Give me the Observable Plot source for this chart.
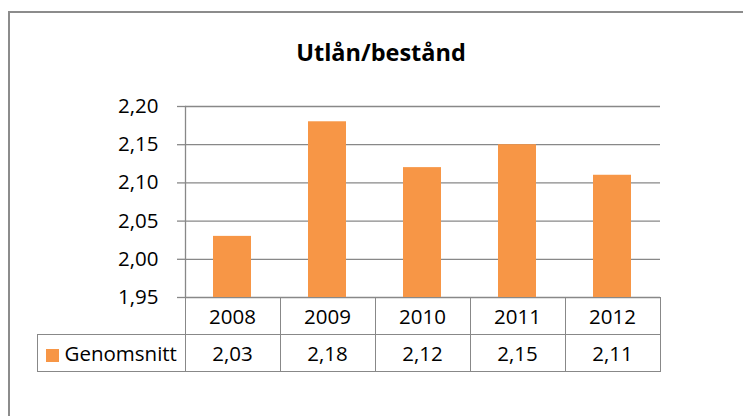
<!DOCTYPE html>
<html>
<head>
<meta charset="utf-8">
<script src="https://cdn.jsdelivr.net/npm/d3@7"></script>
<script src="https://cdn.jsdelivr.net/npm/@observablehq/plot@0.6"></script>
<style>
  html, body { margin: 0; padding: 0; background: #fff; }
  #wrap { position: relative; width: 743px; height: 416px; overflow: hidden; font-family: "Open Sans", sans-serif; color: #000; }
  #border { position: absolute; left: 8px; top: 11px; width: 900px; height: 600px; border-top: 2px solid #8c8c8c; border-left: 2px solid #8c8c8c; }
  #title { position: absolute; left: 0; width: 762px; top: 41px; text-align: center; font-size: 23.5px; font-weight: bold; line-height: 23.5px; }
  #chart { position: absolute; left: 0; top: 0; }
  table.dt { position: absolute; border-collapse: collapse; table-layout: fixed; font-size: 20.5px; }
  table.dt td { border: 1px solid #888; padding: 0; text-align: center; vertical-align: middle; white-space: nowrap; }
  table.dt td.blank { border-top: none; border-left: none; }
  table.dt td.leg { text-align: left; }
  .sw { display: inline-block; width: 13px; height: 13px; background: #F79646; margin-left: 8px; margin-right: 6px; vertical-align: -1px; }
</style>
</head>
<body>
<div id="wrap">
  <div id="border"></div>
  <div id="title"></div>
  <div id="chart"></div>
</div>
<script>
const title = "Utlån/bestånd";
const seriesName = "Genomsnitt";
const years = ["2008", "2009", "2010", "2011", "2012"];
const values = [2.03, 2.18, 2.12, 2.15, 2.11];
const yTicks = [1.95, 2.00, 2.05, 2.10, 2.15, 2.20];

const fmt = d => d.toFixed(2).replace(".", ",");
const data = years.map((year, i) => ({year, value: values[i]}));

document.getElementById("title").textContent = title;

const chart = Plot.plot({
  width: 743,
  height: 416,
  marginLeft: 185,
  marginRight: 83,
  marginTop: 106,
  marginBottom: 119,
  style: {fontFamily: "'Open Sans', sans-serif", fontSize: "20.5px", color: "#000", background: "transparent"},
  x: {domain: years, paddingInner: 0.6, paddingOuter: 0.3, axis: null},
  y: {domain: [yTicks[0], yTicks[yTicks.length - 1]], axis: null},
  marks: [
    Plot.ruleY(yTicks, {stroke: "#888", strokeWidth: 1.3}),
    Plot.axisY({ticks: yTicks, tickFormat: fmt, tickSize: 8, tickPadding: 19, stroke: "#888", strokeWidth: 1.3, label: null, fill: "#000"}),
    Plot.frame({anchor: "left", stroke: "#888", strokeWidth: 1.3}),
    Plot.barY(data, {x: "year", y1: yTicks[0], y2: "value", fill: "#F79646"})
  ]
});
document.getElementById("chart").appendChild(chart);

// Data table aligned with the chart's x band scale
const xs = chart.scale("x");
const step = xs.step;
const colLeft = xs.apply(years[0]) - (step - xs.bandwidth) / 2;
const legendWidth = 148;
const yBase = chart.scale("y").apply(yTicks[0]);

const table = d3.select("#wrap").append("table").attr("class", "dt")
  .style("left", (colLeft - legendWidth) + "px")
  .style("top", (yBase - 0.5) + "px")
  .style("width", (legendWidth + step * years.length) + "px");
const cg = table.append("colgroup");
cg.append("col").style("width", legendWidth + "px");
years.forEach(() => cg.append("col").style("width", step + "px"));

const r1 = table.append("tr").style("height", "37px");
r1.append("td").attr("class", "blank");
years.forEach(y => r1.append("td").text(y));

const r2 = table.append("tr").style("height", "37px");
const leg = r2.append("td").attr("class", "leg");
leg.append("span").attr("class", "sw");
leg.append("span").text(seriesName);
values.forEach(v => r2.append("td").text(fmt(v)));
</script>
</body>
</html>
